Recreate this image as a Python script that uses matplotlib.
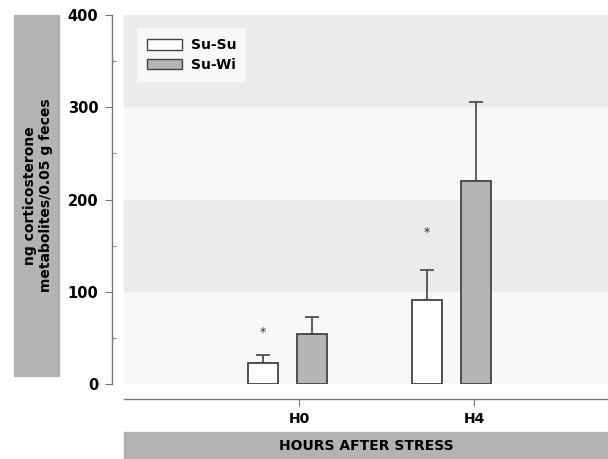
import matplotlib.pyplot as plt
from matplotlib.patches import Rectangle, Patch
import numpy as np

# data
groups = ["H0", "H4"]
su_su = [23, 91]
su_su_err = [8, 33]
su_wi = [54, 220]
su_wi_err = [19, 86]
star_y = [56, 164]

plt.rcParams['font.family'] = ['DejaVu Sans']
plt.rcParams['font.weight'] = 'bold'

fig = plt.figure(figsize=(6.08, 4.59), dpi=100)
ax = fig.add_axes([124 / 608, 1 - 384 / 459, 484 / 608, 369 / 459])

# alternating background bands
for lo in range(0, 400, 100):
    ax.axhspan(lo, lo + 100, color='#ebebeb' if (lo // 100) % 2 else '#f8f8f8',
               zorder=0, lw=0)

x = np.arange(len(groups))
off = 0.149
w = 0.183
ax.bar(x - off, su_su, w, color='white', edgecolor='#444444', linewidth=1.3,
       zorder=3, label='Su-Su')
ax.bar(x + off, su_wi, w, color='#b5b5b5', edgecolor='#444444', linewidth=1.3,
       zorder=3, label='Su-Wi')
ax.errorbar(x - off, su_su, yerr=[np.zeros(2), su_su_err], fmt='none',
            ecolor='#444444', elinewidth=1.2, capsize=5, capthick=1.2, zorder=2)
ax.errorbar(x + off, su_wi, yerr=[np.zeros(2), su_wi_err], fmt='none',
            ecolor='#444444', elinewidth=1.2, capsize=5, capthick=1.2, zorder=2)
for xi, yi in zip(x - off, star_y):
    ax.text(xi, yi, '*', ha='center', va='center', fontsize=9,
            fontweight='normal', color='#333333')

ax.set_xlim(-0.997, 1.954)
ax.set_ylim(0, 400)

ax.set_xticks(x + np.array([0.07, 0.137]))
ax.set_xticklabels(groups, fontsize=10)
ax.set_yticks(range(0, 401, 100))
ax.set_yticks(range(50, 400, 100), minor=True)
ax.tick_params(axis='y', which='major', length=5, color='#777777', pad=4.5,
               labelsize=10.5)
ax.tick_params(axis='y', which='minor', length=3, direction='in', color='#777777')
ax.tick_params(axis='x', length=5, color='#777777', pad=4)

for s in ['top', 'right']:
    ax.spines[s].set_visible(False)
ax.spines['left'].set_position(('outward', 9))
ax.spines['left'].set_bounds(0, 400)
ax.spines['bottom'].set_position(('outward', 11))
for s in ['left', 'bottom']:
    ax.spines[s].set_color('#777777')
    ax.spines[s].set_linewidth(1)

handles = [Patch(facecolor='white', edgecolor='#444444', label='Su-Su'),
           Patch(facecolor='#b5b5b5', edgecolor='#444444', label='Su-Wi')]
leg = ax.legend(handles=handles, loc='upper left', bbox_to_anchor=(0.027, 0.965),
                borderaxespad=0, frameon=True, fancybox=False, fontsize=10,
                handlelength=2.5, handleheight=0.8, handletextpad=0.6,
                borderpad=0.75, labelspacing=0.4)
leg.get_frame().set_facecolor('#f8f8f8')
leg.get_frame().set_edgecolor('none')
leg.get_frame().set_alpha(1)

# gray label boxes
fig.patches.append(Rectangle((14 / 608, 1 - 376 / 459), 45 / 608, 361 / 459,
                             transform=fig.transFigure, color='#b3b3b3', zorder=0))
fig.text(38 / 608, 1 - 195.5 / 459, 'ng corticosterone\nmetabolites/0.05 g feces',
         rotation=90, ha='center', va='center', fontsize=10, linespacing=1.1)
fig.patches.append(Rectangle((124 / 608, 0), 484 / 608, 27 / 459,
                             transform=fig.transFigure, color='#b3b3b3', zorder=0))
fig.text(366 / 608, 13 / 459, 'HOURS AFTER STRESS', ha='center', va='center',
         fontsize=10)

fig.savefig('out.png', dpi=100)
